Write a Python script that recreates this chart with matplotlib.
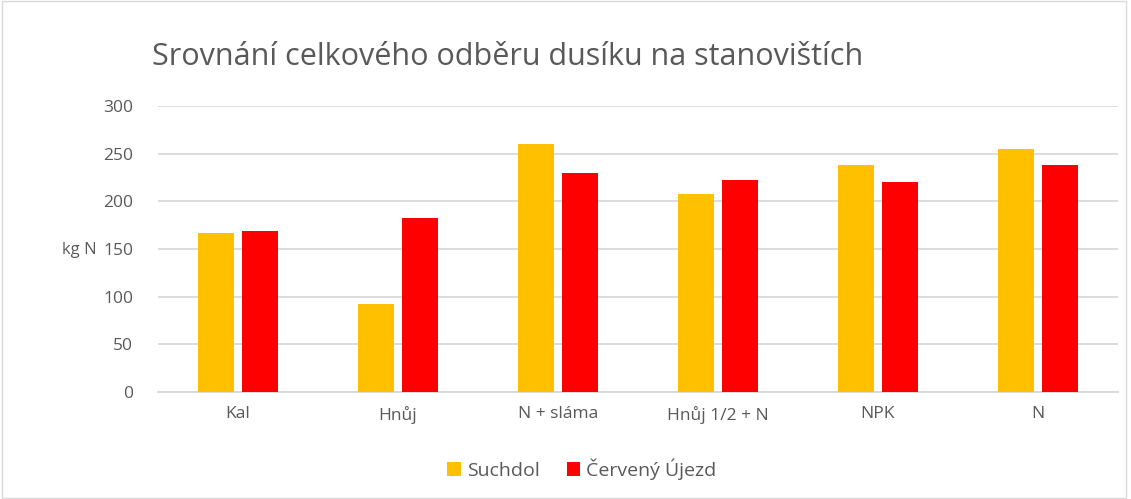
import matplotlib.pyplot as plt
import numpy as np

# data
categories = ['Kal', 'Hnůj', 'N + sláma', 'Hnůj 1/2 + N', 'NPK', 'N']
suchdol = [167, 92, 260, 208, 238, 255]
cerveny_ujezd = [169, 182, 230, 222, 220, 238]

grey = '#595959'
plt.rcParams['font.family'] = ['Open Sans', 'DejaVu Sans']

fig = plt.figure(figsize=(11.31, 4.99), dpi=100)
ax = fig.add_axes([158/1131, 1 - 392/499, 960/1131, 286/499])

x = np.arange(len(categories))
w = 0.225
ax.bar(x - 0.14, suchdol, w, color='#FFC000', label='Suchdol', zorder=3)
ax.bar(x + 0.14, cerveny_ujezd, w, color='#FF0000', label='Červený Újezd', zorder=3)

ax.set_xlim(-0.5, len(categories) - 0.5)
ax.set_ylim(0, 300)
ax.set_yticks(range(0, 301, 50))
ax.set_xticks(x)
ax.set_xticklabels(categories)
ax.tick_params(axis='both', length=0, colors=grey, labelsize=12.5)
ax.tick_params(axis='y', pad=18)
ax.tick_params(axis='x', pad=10)
ax.grid(axis='y', color='#D9D9D9', linewidth=1.3, zorder=0)
for s in ['top', 'right', 'left']:
    ax.spines[s].set_visible(False)
ax.spines['bottom'].set_color('#D9D9D9')
ax.spines['bottom'].set_linewidth(1.3)

fig.text(62/1131, 1 - 250/499, 'kg N', color=grey, fontsize=12, va='center', ha='left')
fig.text(152/1131, 1 - 57/499, 'Srovnání celkového odběru dusíku na stanovištích',
         color=grey, fontsize=22, va='center', ha='left')

fig.legend(loc='center', bbox_to_anchor=(582/1131, 1 - 469/499), ncol=2, frameon=False,
           fontsize=14, labelcolor=grey, handlelength=0.7, handleheight=0.7,
           handletextpad=0.3, columnspacing=1.4)

# light frame around the chart
fig.patches.append(plt.Rectangle((0.002, 0.003), 0.994, 0.994, transform=fig.transFigure,
                                 fill=False, edgecolor='#D9D9D9', linewidth=1))

fig.savefig('out.png', dpi=100)
